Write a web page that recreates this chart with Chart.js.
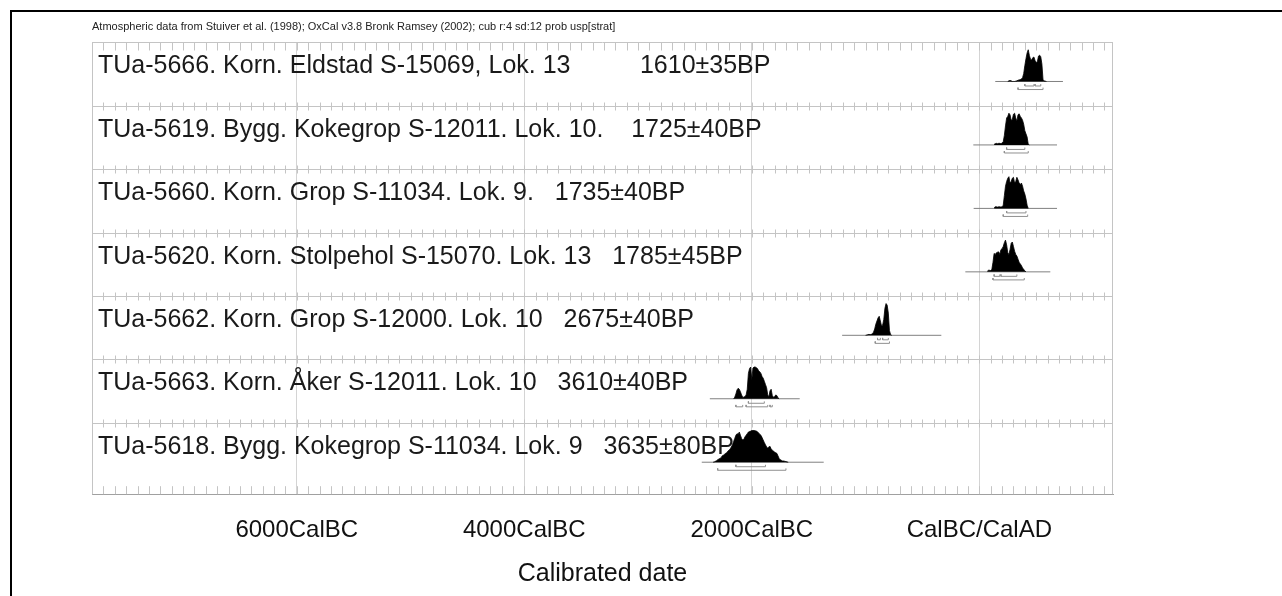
<!DOCTYPE html>
<html>
<head>
<meta charset="utf-8">
<script src="https://cdn.jsdelivr.net/npm/chart.js@4"></script>
<style>
  body { margin: 0; background: #fff; }
  #wrap { width: 1282px; height: 596px; position: relative; }
</style>
</head>
<body>
<div id="wrap"><canvas id="oxcal"></canvas></div>
<script>
// sample labels, top row first
const rowLabels = [
    'TUa-5666. Korn. Eldstad S-15069, Lok. 13          1610±35BP',
    'TUa-5619. Bygg. Kokegrop S-12011. Lok. 10.    1725±40BP',
    'TUa-5660. Korn. Grop S-11034. Lok. 9.   1735±40BP',
    'TUa-5620. Korn. Stolpehol S-15070. Lok. 13   1785±45BP',
    'TUa-5662. Korn. Grop S-12000. Lok. 10   2675±40BP',
    'TUa-5663. Korn. Åker S-12011. Lok. 10   3610±40BP',
    'TUa-5618. Bygg. Kokegrop S-11034. Lok. 9   3635±80BP'
]

// x axis (calendar years, BC negative)
const tickYears = [-6000, -4000, -2000, 0]
const tickLabels = ['6000CalBC', '4000CalBC', '2000CalBC', 'CalBC/CalAD']

// probability curves, relative to peak, sampled every 10 years from histStart
const histStart = [250, 130, 130, 70, -1000, -2160, -2340]
const probTUa5666 = [0, 0.02, 0.03, 0.02, 0, 0, 0, 0.01, 0.02, 0.04, 0.05, 0.06, 0.08, 0.12, 0.25, 0.5, 0.72, 0.9, 1.0, 0.82, 0.7, 0.68, 0.75, 0.77, 0.66, 0.6, 0.62, 0.8, 0.83, 0.78, 0.55, 0.05, 0.02, 0.01, 0]
const probTUa5619 = [0.02, 0.04, 0.05, 0.04, 0.05, 0.05, 0.04, 0.06, 0.1, 0.3, 0.6, 0.85, 0.9, 1.0, 0.95, 0.78, 0.8, 0.97, 1.0, 0.85, 0.75, 0.95, 0.98, 0.9, 0.85, 0.78, 0.65, 0.45, 0.35, 0.25, 0.02, 0]
const probTUa5660 = [0.02, 0.05, 0.05, 0.04, 0.05, 0.05, 0.04, 0.05, 0.1, 0.4, 0.7, 0.85, 0.95, 1.0, 0.8, 0.85, 0.95, 0.98, 0.8, 0.85, 0.98, 0.9, 0.8, 0.75, 0.8, 0.7, 0.55, 0.45, 0.3, 0.1, 0]
const probTUa5620 = [0.02, 0.05, 0.05, 0.04, 0.08, 0.3, 0.58, 0.55, 0.6, 0.62, 0.63, 0.55, 0.7, 0.73, 0.8, 0.92, 1.0, 0.85, 0.6, 0.55, 0.7, 0.9, 0.94, 0.8, 0.65, 0.55, 0.5, 0.4, 0.3, 0.25, 0.2, 0.12, 0.08, 0.03, 0]
const probTUa5662 = [0, 0.01, 0.02, 0.03, 0.02, 0.03, 0.05, 0.1, 0.2, 0.35, 0.45, 0.55, 0.6, 0.45, 0.3, 0.32, 0.5, 0.85, 1.0, 0.95, 0.7, 0.15, 0.02, 0]
const probTUa5663 = [0, 0.05, 0.15, 0.28, 0.33, 0.3, 0.22, 0.12, 0.05, 0.05, 0.07, 0.12, 0.3, 0.8, 0.95, 1.0, 0.6, 0.97, 1.0, 1.0, 0.98, 0.95, 0.88, 0.85, 0.8, 0.7, 0.65, 0.55, 0.45, 0.35, 0.12, 0.06, 0.25, 0.3, 0.1, 0.05, 0.06, 0.12, 0.1, 0.03, 0]
const probTUa5618 = [0, 0.01, 0.03, 0.05, 0.08, 0.1, 0.12, 0.14, 0.2, 0.22, 0.25, 0.28, 0.3, 0.35, 0.38, 0.42, 0.48, 0.55, 0.65, 0.75, 0.85, 0.9, 0.88, 0.95, 0.85, 0.75, 0.7, 0.72, 0.8, 0.85, 0.9, 0.95, 0.97, 0.98, 1.0, 1.0, 1.0, 0.99, 0.98, 0.96, 0.92, 0.88, 0.85, 0.78, 0.7, 0.62, 0.55, 0.48, 0.45, 0.48, 0.5, 0.42, 0.38, 0.35, 0.32, 0.3, 0.28, 0.2, 0.12, 0.08, 0.06, 0.04, 0.04, 0.03, 0.02, 0.01, 0]
const probs = [probTUa5666, probTUa5619, probTUa5660, probTUa5620, probTUa5662, probTUa5663, probTUa5618]

// extent of the thin line under each curve
const lineFrom = [140, -53, -50, -123, -1206, -2369, -2440]
const lineTo = [735, 683, 683, 624, -334, -1579, -1368]

// 68.2% and 95.4% ranges
const range68 = [
    [[400, 480], [490, 540]],
    [[240, 400]],
    [[240, 410]],
    [[130, 180], [190, 330]],
    [[-895, -870], [-850, -800]],
    [[-2030, -1890]],
    [[-2140, -1880]]
]
const range95 = [
    [[340, 560]],
    [[220, 430]],
    [[210, 425]],
    [[120, 395]],
    [[-915, -790]],
    [[-2140, -2080], [-2050, -1860], [-1840, -1820]],
    [[-2300, -1700]]
]

const nRows = rowLabels.length
const baseOffset = 0.619   // baseline below row top, in row units
const histHeight = 0.5

const datasets = []
probs.forEach(function(p, i) {
    const base = nRows - i - baseOffset
    datasets.push({
        data: p.map(function(v, k) { return { x: histStart[i] + k * 10, y: base + v * histHeight } }),
        borderColor: '#000',
        backgroundColor: '#000',
        borderWidth: 0.8,
        pointRadius: 0,
        fill: { value: base },
        order: 1
    })
    datasets.push({
        data: [{ x: lineFrom[i], y: base }, { x: lineTo[i], y: base }],
        borderColor: '#808080',
        borderWidth: 1,
        pointRadius: 0,
        fill: false,
        order: 2
    })
    const brackets = [[range68[i], 0.071], [range95[i], 0.127]]
    brackets.forEach(function(b) {
        b[0].forEach(function(r) {
            const y = base - b[1]
            datasets.push({
                data: [{ x: r[0], y: y + 0.03 }, { x: r[0], y: y }, { x: r[1], y: y }, { x: r[1], y: y + 0.03 }],
                borderColor: '#909090',
                borderWidth: 1,
                pointRadius: 0,
                fill: false,
                order: 2
            })
        })
    })
})

const framePlugin = {
    id: 'frame',
    beforeDraw(chart) {
        const ctx = chart.ctx
        ctx.save()
        ctx.strokeStyle = '#000'
        ctx.lineWidth = 2
        ctx.beginPath()
        ctx.moveTo(11, 596)
        ctx.lineTo(11, 11)
        ctx.lineTo(1282, 11)
        ctx.stroke()
        ctx.restore()
    },
    beforeDatasetsDraw(chart) {
        const ctx = chart.ctx
        const xs = chart.scales.x
        const ys = chart.scales.y
        const a = chart.chartArea
        ctx.save()
        ctx.strokeStyle = '#c4c4c4'
        ctx.lineWidth = 1
        // row lines with cross ticks every 100 years
        for (let r = 0; r < nRows; r++) {
            const py = Math.round(ys.getPixelForValue(nRows - r)) + 0.5
            ctx.beginPath()
            ctx.moveTo(a.left, py)
            ctx.lineTo(a.right, py)
            for (let yr = Math.ceil(xs.min / 100) * 100; yr <= xs.max; yr += 100) {
                const px = Math.round(xs.getPixelForValue(yr)) + 0.5
                if (r === 0) {
                    ctx.moveTo(px, py)
                    ctx.lineTo(px, py + 8)
                } else {
                    ctx.moveTo(px, py - 4)
                    ctx.lineTo(px, py + 4)
                }
            }
            ctx.stroke()
        }
        // bottom ticks
        ctx.beginPath()
        for (let yr = Math.ceil(xs.min / 100) * 100; yr <= xs.max; yr += 100) {
            const px = Math.round(xs.getPixelForValue(yr)) + 0.5
            ctx.moveTo(px, a.bottom)
            ctx.lineTo(px, a.bottom - 8)
        }
        ctx.stroke()
        // side borders
        ctx.beginPath()
        ctx.moveTo(Math.round(a.left) + 0.5, a.top)
        ctx.lineTo(Math.round(a.left) + 0.5, a.bottom)
        ctx.moveTo(Math.round(a.right) - 0.5, a.top)
        ctx.lineTo(Math.round(a.right) - 0.5, a.bottom)
        ctx.stroke()
        // sample labels
        ctx.fillStyle = '#1a1a1a'
        ctx.font = '25px "Liberation Sans", Arial, sans-serif'
        ctx.textBaseline = 'middle'
        rowLabels.forEach(function(t, i) {
            const py = ys.getPixelForValue(nRows - i - 0.38)
            ctx.fillText(t, 98, py)
        })
        ctx.restore()
    }
}

new Chart(document.getElementById('oxcal'), {
    type: 'line',
    data: { datasets: datasets },
    options: {
        responsive: true,
        maintainAspectRatio: false,
        animation: false,
        devicePixelRatio: 1,
        layout: { padding: { left: 92, right: 169, top: 0, bottom: 3 } },
        plugins: {
            legend: { display: false },
            tooltip: { enabled: false },
            title: {
                display: true,
                text: 'Atmospheric data from Stuiver et al. (1998); OxCal v3.8 Bronk Ramsey (2002); cub r:4 sd:12 prob usp[strat]',
                align: 'start',
                color: '#222',
                font: { family: '"Liberation Sans", Arial, sans-serif', size: 11, weight: 'normal' },
                padding: { top: 20, bottom: 9 }
            }
        },
        scales: {
            x: {
                type: 'linear',
                min: -7800,
                max: 1175,
                afterBuildTicks(scale) {
                    scale.ticks = tickYears.map(function(v) { return { value: v } })
                },
                ticks: {
                    padding: 22,
                    color: '#111',
                    font: { family: '"Liberation Sans", Arial, sans-serif', size: 24 },
                    maxRotation: 0,
                    callback: function(v) { return tickLabels[tickYears.indexOf(v)] }
                },
                grid: { color: '#d4d4d4', drawTicks: false },
                border: { color: '#a0a0a0' },
                title: {
                    display: true,
                    text: 'Calibrated date',
                    color: '#111',
                    font: { family: '"Liberation Sans", Arial, sans-serif', size: 25 },
                    padding: { top: -8, bottom: 4 }
                }
            },
            y: {
                type: 'linear',
                display: false,
                min: -0.123,
                max: nRows
            }
        }
    },
    plugins: [framePlugin]
})
</script>
</body>
</html>
